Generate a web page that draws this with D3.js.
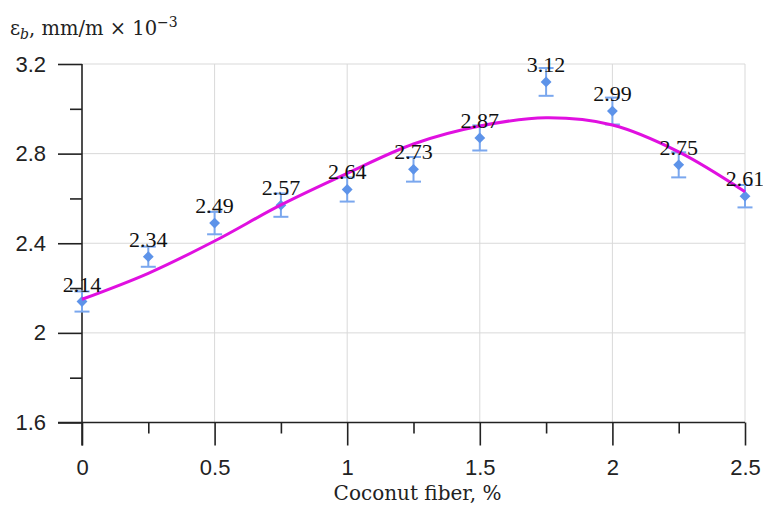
<!DOCTYPE html>
<html>
<head>
<meta charset="utf-8">
<script src="https://cdn.jsdelivr.net/npm/d3@7"></script>
<style>
  body { margin: 0; background: #fff; }
  svg { display: block; }
</style>
</head>
<body>
<script>
// measured data
var fiber = [0, 0.25, 0.5, 0.75, 1, 1.25, 1.5, 1.75, 2, 2.25, 2.5]
var strain = [2.14, 2.34, 2.49, 2.57, 2.64, 2.73, 2.87, 3.12, 2.99, 2.75, 2.61]
var errors = [0.045, 0.045, 0.05, 0.052, 0.054, 0.055, 0.056, 0.062, 0.06, 0.056, 0.05]
// trend line
var trendX = [0, 0.25, 0.5, 0.75, 1, 1.25, 1.5, 1.75, 2, 2.25, 2.5]
var trendY = [2.15, 2.266, 2.41, 2.571, 2.712, 2.843, 2.923, 2.96, 2.928, 2.808, 2.63]
var yMajor = [1.6, 2, 2.4, 2.8, 3.2]
var yMinor = [1.8, 2.2, 2.6, 3.0]
var xMajor = [0, 0.5, 1, 1.5, 2, 2.5]
var xMinor = [0.25, 0.75, 1.25, 1.75, 2.25]

var width = 763, height = 506

var svg = d3.select("body").append("svg")
    .attr("width", width)
    .attr("height", height)

var x = d3.scaleLinear().domain([0, 2.5]).range([82, 745])
var y = d3.scaleLinear().domain([1.6, 3.2]).range([422.5, 64])

// grid
var grid = svg.append("g")
grid.selectAll(".hgrid")
    .data(yMajor.filter(function(d){ return d > 1.6 }))
  .enter().append("line")
    .attr("x1", x(0)).attr("x2", x(2.5))
    .attr("y1", function(d){ return y(d) }).attr("y2", function(d){ return y(d) })
    .attr("stroke", "#d9d9d9").attr("stroke-width", 1)
grid.selectAll(".vgrid")
    .data(xMajor.filter(function(d){ return d > 0 }))
  .enter().append("line")
    .attr("x1", function(d){ return x(d) }).attr("x2", function(d){ return x(d) })
    .attr("y1", y(3.2)).attr("y2", y(1.6))
    .attr("stroke", "#d9d9d9").attr("stroke-width", 1)

// axes
var yAxis = d3.axisLeft(y).tickValues(yMajor).tickSize(24).tickPadding(12)
    .tickFormat(function(d){ return d3.format("")(d) })
var yAxisMinor = d3.axisLeft(y).tickValues(yMinor).tickSize(12).tickFormat("")
var xAxis = d3.axisBottom(x).tickValues(xMajor).tickSize(23).tickPadding(14)
    .tickFormat(function(d){ return d3.format("")(d) })
var xAxisMinor = d3.axisBottom(x).tickValues(xMinor).tickSize(11).tickFormat("")

var gy = svg.append("g").attr("transform", "translate(" + x(0) + ",0)").call(yAxis)
svg.append("g").attr("transform", "translate(" + x(0) + ",0)").call(yAxisMinor)
var gx = svg.append("g").attr("transform", "translate(0," + y(1.6) + ")").call(xAxis)
svg.append("g").attr("transform", "translate(0," + y(1.6) + ")").call(xAxisMinor)

svg.selectAll(".domain").remove()
svg.selectAll(".tick line").attr("stroke", "#222").attr("stroke-width", 1.6)
svg.selectAll(".tick text")
    .attr("font-family", "'Liberation Sans', Arial, sans-serif")
    .attr("font-size", 22)
    .attr("fill", "#222")

// main axis lines
svg.append("line")
    .attr("x1", x(0)).attr("x2", x(0))
    .attr("y1", y(3.2)).attr("y2", y(1.6) + 23)
    .attr("stroke", "#222").attr("stroke-width", 1.6)
svg.append("line")
    .attr("x1", x(0) - 24).attr("x2", x(2.5))
    .attr("y1", y(1.6)).attr("y2", y(1.6))
    .attr("stroke", "#222").attr("stroke-width", 1.6)

// error bars
var points = fiber.map(function(f, i){ return {x: f, y: strain[i], e: errors[i]} })
var eb = svg.append("g").attr("stroke", "#7aa7ee").attr("stroke-width", 2)
eb.selectAll(".ev").data(points).enter().append("line")
    .attr("x1", function(d){ return x(d.x) }).attr("x2", function(d){ return x(d.x) })
    .attr("y1", function(d){ return y(d.y + d.e) }).attr("y2", function(d){ return y(d.y - d.e) })
eb.selectAll(".et").data(points).enter().append("line")
    .attr("x1", function(d){ return x(d.x) - 7.5 }).attr("x2", function(d){ return x(d.x) + 7.5 })
    .attr("y1", function(d){ return y(d.y + d.e) }).attr("y2", function(d){ return y(d.y + d.e) })
eb.selectAll(".eb").data(points).enter().append("line")
    .attr("x1", function(d){ return x(d.x) - 7.5 }).attr("x2", function(d){ return x(d.x) + 7.5 })
    .attr("y1", function(d){ return y(d.y - d.e) }).attr("y2", function(d){ return y(d.y - d.e) })

// diamonds
svg.append("g").selectAll("path").data(points).enter().append("path")
    .attr("d", d3.symbol().type(d3.symbolDiamond2).size(75))
    .attr("transform", function(d){ return "translate(" + x(d.x) + "," + y(d.y) + ")" })
    .attr("fill", "#5d93e9")

// trend line
var trend = trendX.map(function(t, i){ return [t, trendY[i]] })
svg.append("path")
    .datum(trend)
    .attr("fill", "none")
    .attr("stroke", "#e010e0")
    .attr("stroke-width", 3)
    .attr("d", d3.line().x(function(d){ return x(d[0]) }).y(function(d){ return y(d[1]) }).curve(d3.curveCatmullRom))

// value labels
svg.append("g").selectAll("text").data(points).enter().append("text")
    .attr("x", function(d){ return x(d.x) })
    .attr("y", function(d){ return y(d.y) - 10 })
    .attr("text-anchor", "middle")
    .attr("font-family", "'Liberation Serif', 'Times New Roman', serif")
    .attr("font-size", 22)
    .attr("fill", "#111")
    .text(function(d){ return d3.format(".2f")(d.y) })

// axis titles
svg.append("text")
    .attr("x", (x(0) + x(2.5)) / 2 + 4)
    .attr("y", 500)
    .attr("text-anchor", "middle")
    .attr("font-family", "'DejaVu Serif', serif")
    .attr("font-size", 20)
    .attr("fill", "#222")
    .text("Coconut fiber, %")

var title = svg.append("text")
    .attr("x", 10)
    .attr("y", 35)
    .attr("font-family", "'DejaVu Serif', serif")
    .attr("font-size", 19.5)
    .attr("fill", "#222")
title.append("tspan").text("ε")
title.append("tspan").attr("font-style", "italic").attr("font-size", 14).attr("dy", 4).text("b")
title.append("tspan").attr("dy", -4).text(", mm/m × 10")
title.append("tspan").attr("font-size", 14).attr("dy", -8).text("−3")
</script>
</body>
</html>
